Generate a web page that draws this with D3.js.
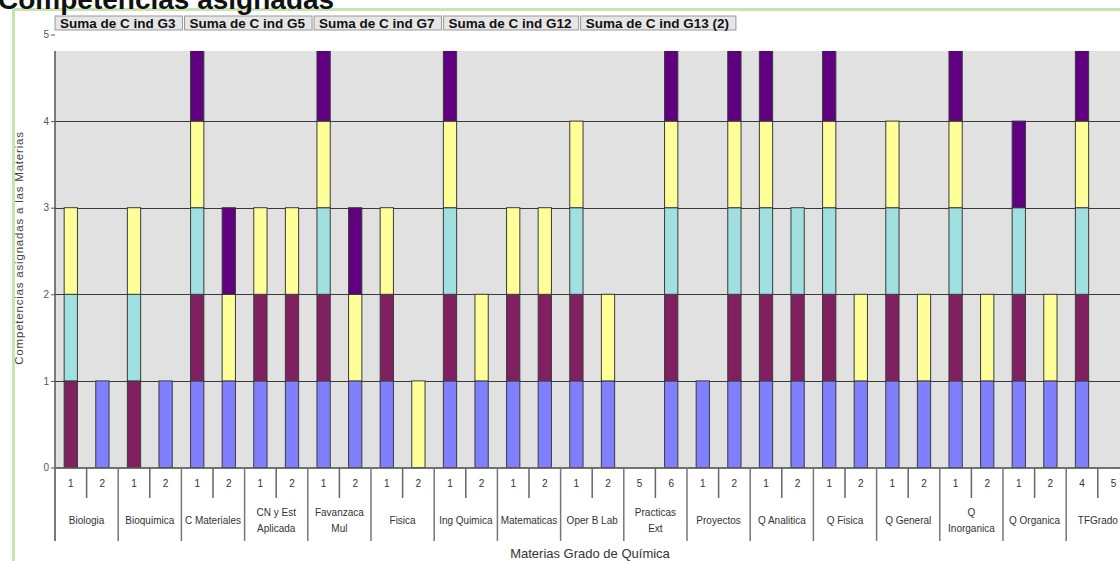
<!DOCTYPE html>
<html>
<head>
<meta charset="utf-8">
<script src="https://cdn.jsdelivr.net/npm/d3@7"></script>
<style>
html,body{margin:0;padding:0;background:#fff;overflow:hidden;}
svg{display:block;font-family:Arial,"Liberation Sans",sans-serif;}
</style>
</head>
<body>
<svg id="chart" width="1120" height="561"></svg>
<script>
// ---- data ----
const groups = ["Biologia","Bioquimica","C Materiales","CN y Est Aplicada","Favanzaca Mul","Fisica","Ing Quimica","Matematicas","Oper B Lab","Practicas Ext","Proyectos","Q Analitica","Q Fisica","Q General","Q Inorganica","Q Organica","TFGrado"];
const groupLines = [["Biologia"],["Bioquimica"],["C Materiales"],["CN y Est","Aplicada"],["Favanzaca","Mul"],["Fisica"],["Ing Quimica"],["Matematicas"],["Oper B Lab"],["Practicas","Ext"],["Proyectos"],["Q Analitica"],["Q Fisica"],["Q General"],["Q","Inorganica"],["Q Organica"],["TFGrado"]];
const subLabels = ["1","2","1","2","1","2","1","2","1","2","1","2","1","2","1","2","1","2","5","6","1","2","1","2","1","2","1","2","1","2","1","2","4","5"];
const seriesNames = ["Suma de C ind G3","Suma de C ind G5","Suma de C ind G7","Suma de C ind G12","Suma de C ind G13 (2)"];
const G3  = [0,1,0,1,1,1,1,1,1,1,1,0,1,1,1,1,1,1,0,1,1,1,1,1,1,1,1,1,1,1,1,1,1,0];
const G5  = [1,0,1,0,1,0,1,1,1,0,1,0,1,0,1,1,1,0,0,1,0,1,1,1,1,0,1,0,1,0,1,0,1,0];
const G7  = [1,0,1,0,1,0,0,0,1,0,0,0,1,0,0,0,1,0,0,1,0,1,1,1,1,0,1,0,1,0,1,0,1,0];
const G12 = [1,0,1,0,1,1,1,1,1,1,1,1,1,1,1,1,1,1,0,1,0,1,1,0,1,1,1,1,1,1,0,1,1,0];
const G13 = [0,0,0,0,1,1,0,0,1,1,0,0,1,0,0,0,0,0,0,1,0,1,1,0,1,0,0,0,1,0,1,0,1,0];
const yTicks = [0,1,2,3,4,5];
const colors = ["#8080FF","#802060","#A0E0E0","#FFFF99","#600080"];

const seriesValues = [G3,G5,G7,G12,G13];
const slots = subLabels.map((s,i)=>i);

// ---- layout ----
const svg = d3.select("#chart");
const left = 55, plotTop = 51, bottom = 467.5;
const slotW = 31.6;
const right = left + slots.length*slotW;

const x = d3.scaleBand().domain(slots).range([left,right]).padding(0);
const xg = d3.scaleBand().domain(d3.range(groups.length)).range([left,right]).padding(0);
const y = d3.scaleLinear().domain([0,5]).range([bottom, bottom-5*86.6]);

// frame
svg.append("line").attr("x1",13).attr("x2",1120).attr("y1",9.5).attr("y2",9.5).attr("stroke","#C8E4B0").attr("stroke-width",3);
svg.append("line").attr("x1",13.5).attr("x2",13.5).attr("y1",8).attr("y2",561).attr("stroke","#C8E4B0").attr("stroke-width",3);

// title (cut at top, as in the reference)
svg.append("text").attr("x",-2).attr("y",9).attr("font-size",28).attr("font-weight","bold").attr("fill","#111").text("Competencias asignadas");

// clip
svg.append("clipPath").attr("id","pc").append("rect").attr("x",left).attr("y",plotTop).attr("width",1120-left).attr("height",bottom-plotTop);

// plot background
svg.append("rect").attr("x",left).attr("y",plotTop).attr("width",1120-left).attr("height",bottom-plotTop).attr("fill","#E1E1E1");

// gridlines
svg.append("g").selectAll("line").data(yTicks.filter(t=>t>0)).join("line")
  .attr("x1",left).attr("x2",1120).attr("y1",d=>Math.round(y(d))+0.5).attr("y2",d=>Math.round(y(d))+0.5)
  .attr("stroke","#3a3a3a").attr("stroke-width",1.2).attr("clip-path","url(#pc)");

// stacked bars (series order bottom to top)
const keys = seriesNames.map((n,k)=>"s"+k);
const rows = slots.map(i=>{ const o={slot:i}; seriesValues.forEach((v,k)=>o["s"+k]=v[i]); return o; });
const layers = d3.stack().keys(keys)(rows);
const bw = slotW*0.42;
const gBars = svg.append("g").attr("clip-path","url(#pc)");
layers.forEach((layer,k)=>{
  gBars.append("g").selectAll("rect").data(layer.filter(d=>d[1]>d[0])).join("rect")
    .attr("x",d=>x(d.data.slot)+(x.bandwidth()-bw)/2)
    .attr("width",bw)
    .attr("y",d=>y(d[1]))
    .attr("height",d=>y(d[0])-y(d[1]))
    .attr("fill",colors[k])
    .attr("stroke","#3a3a3a").attr("stroke-width",1);
});

// y axis
const yAxis = d3.axisLeft(y).tickValues(yTicks).tickSize(4).tickFormat(d3.format("d"));
const ga = svg.append("g").attr("transform",`translate(${left},0)`).call(yAxis);
ga.select(".domain").remove();
ga.selectAll(".tick line").attr("stroke","#555");
ga.selectAll(".tick text").attr("fill","#555").attr("font-size",10).attr("x",-6);
svg.append("line").attr("x1",left).attr("x2",left).attr("y1",plotTop).attr("y2",541).attr("stroke","#555").attr("stroke-width",1.5);

// x axis line
svg.append("line").attr("x1",left).attr("x2",1120).attr("y1",bottom+0.5).attr("y2",bottom+0.5).attr("stroke","#444").attr("stroke-width",1.5);

// sub category separators & labels
svg.append("g").selectAll("line").data(slots.filter(i=>i%2===1)).join("line")
  .attr("x1",d=>x(d)).attr("x2",d=>x(d)).attr("y1",bottom).attr("y2",498)
  .attr("stroke","#666").attr("stroke-width",1.5);
svg.append("g").selectAll("text").data(slots).join("text")
  .attr("x",d=>x(d)+x.bandwidth()/2).attr("y",487)
  .attr("text-anchor","middle").attr("font-size",10).attr("fill","#333")
  .text(d=>subLabels[d]);

// group separators & labels
svg.append("g").selectAll("line").data(d3.range(groups.length+1)).join("line")
  .attr("x1",d=>left+d*xg.bandwidth()).attr("x2",d=>left+d*xg.bandwidth()).attr("y1",bottom).attr("y2",541)
  .attr("stroke","#777").attr("stroke-width",1.5);
const gl = svg.append("g").selectAll("text").data(d3.range(groups.length)).join("text")
  .attr("text-anchor","middle").attr("font-size",10).attr("fill","#333")
  .attr("transform",d=>`translate(${xg(d)+xg.bandwidth()/2},0)`);
gl.each(function(d){
  const lines = groupLines[d];
  const t = d3.select(this);
  const y0 = lines.length===1 ? 524 : 516;
  lines.forEach((ln,j)=>t.append("tspan").attr("x",0).attr("y",y0+j*16).text(ln));
});

// axis titles
svg.append("text").attr("x",590).attr("y",558).attr("text-anchor","middle").attr("font-size",13).attr("fill","#333").text("Materias Grado de Química");
svg.append("text").attr("transform","translate(23,248) rotate(-90)").attr("text-anchor","middle").attr("font-size",11.5).attr("letter-spacing",0.8).attr("fill","#444").text("Competencias asignadas a las Materias");

// legend (pivot field buttons)
const lg = svg.append("g");
let lx = 55;
seriesNames.forEach((name)=>{
  const g = lg.append("g").attr("transform",`translate(${lx},16)`);
  const r = g.append("rect").attr("height",14).attr("fill","#E6E6E6").attr("stroke","#999").attr("stroke-width",1);
  const t = g.append("text").attr("x",5).attr("y",11.5).attr("font-size",13.5).attr("font-weight","bold").attr("fill","#111").text(name);
  const w = t.node().getComputedTextLength()+12;
  r.attr("width",w);
  lx += w+2;
});
</script>
</body>
</html>
